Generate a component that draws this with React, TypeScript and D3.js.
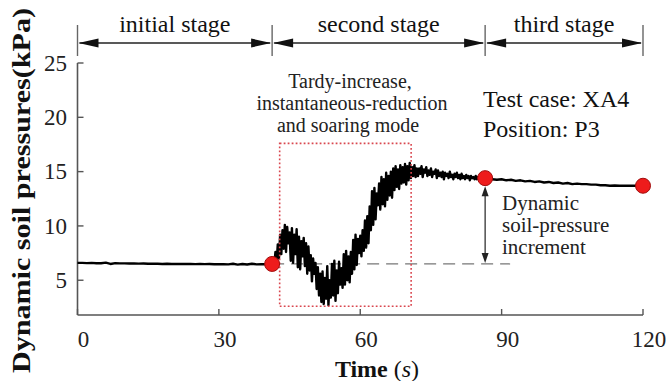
import React from 'react';
import * as d3 from 'd3';

// initial stage, 1 s step from t = 0
const initialStage = [
  6.6, 6.6, 6.58, 6.6, 6.57, 6.56, 6.62, 6.5, 6.58, 6.55, 6.55, 6.54, 6.55, 6.53, 6.54, 6.52,
  6.53, 6.52, 6.5, 6.52, 6.5, 6.51, 6.5, 6.49, 6.5, 6.48, 6.5, 6.48, 6.49, 6.47, 6.48, 6.47,
  6.46, 6.52, 6.44, 6.5, 6.45, 6.52, 6.46, 6.48, 6.47, 6.5,
];
// second stage, 0.25 s step from t = 41.25
const secondStage = [
  6.5, 6.9, 6.3, 7.6, 6.6, 8.3, 7.0, 9.2, 7.4, 9.6, 7.9, 10.1, 7.6, 9.9, 8.4, 9.4,
  6.8, 9.8, 6.6, 9.2, 7.4, 9.7, 6.2, 9.0, 6.0, 8.6, 7.2, 8.9, 6.3, 8.4, 5.6, 8.1,
  5.9, 7.3, 4.9, 7.0, 5.6, 6.6, 4.2, 6.2, 3.6, 5.6, 3.0, 5.8, 2.8, 5.2, 3.3, 6.3,
  2.7, 5.0, 3.4, 6.5, 3.6, 6.8, 3.1, 5.9, 3.8, 6.7, 4.6, 6.1, 4.3, 7.4, 4.6, 7.7,
  5.0, 7.2, 4.8, 7.6, 5.6, 8.7, 6.0, 9.2, 6.4, 8.8, 7.5, 9.1, 7.2, 9.6, 7.7, 10.5,
  8.0, 10.9, 8.4, 11.8, 9.6, 13.2, 10.1, 13.5, 10.6, 13.0, 11.9, 13.9, 11.5, 14.5, 12.0, 14.3,
  11.8, 14.9, 12.4, 14.6, 12.8, 15.0, 12.6, 15.3, 13.3, 15.5, 13.6, 15.2, 13.4, 15.6, 13.9, 15.4,
  14.0, 15.7, 13.8, 15.5, 14.2, 15.8, 14.4, 15.4, 14.6, 15.6, 14.5, 15.3,
];
// late second stage, 0.25 s step from t = 72.25
const plateau = [
  14.6, 15.3, 14.8, 15.5, 14.5, 15.2, 14.9, 15.4, 14.6, 15.1,
  14.7, 15.3, 14.5, 15.0, 14.8, 15.2, 14.4, 15.1, 14.6, 14.9,
  14.5, 15.0, 14.3, 14.9, 14.6, 14.8, 14.4, 15.0, 14.5, 14.7,
  14.3, 14.8, 14.5, 14.9, 14.4, 14.7, 14.3, 14.8, 14.4, 14.6,
  14.3, 14.7, 14.4, 14.6, 14.2, 14.6, 14.4, 14.5, 14.3, 14.6,
  14.3, 14.5, 14.4, 14.5, 14.3, 14.45, 14.4, 14.4,
];
// third stage, 1 s step from t = 87
const thirdStage = [
  14.35, 14.3, 14.25, 14.3, 14.2, 14.25, 14.15, 14.2, 14.1, 14.15, 14.05, 14.1, 14.0, 14.05,
  13.95, 14.0, 13.9, 13.95, 13.85, 13.9, 13.85, 13.85, 13.8, 13.8, 13.75, 13.75, 13.7, 13.72,
  13.7, 13.7, 13.7, 13.7, 13.7, 13.7,
];
const segments = [
  { start: 0, step: 1, values: initialStage },
  { start: 41.25, step: 0.25, values: secondStage },
  { start: 72.25, step: 0.25, values: plateau },
  { start: 87, step: 1, values: thirdStage },
];

const stageBounds = [0, 41.3, 86.5, 120];
const stageLabels = ['initial stage', 'second stage', 'third stage'];
const keyPoints = [
  [41.3, 6.5],
  [86.5, 14.4],
  [120, 13.7],
];
const xTicks = [0, 30, 60, 90, 120];
const yTicks = [5, 10, 15, 20, 25];
const boxT = [42.9, 70.8];
const boxV = [2.6, 17.6];
const baseLevel = 6.5;
const dashEnd = 91.8;

const serif = '"Liberation Serif", "Times New Roman", serif';

export default function App() {
  const x = d3.scaleLinear().domain([0, 120]).range([77.5, 643]);
  const y = d3.scaleLinear().domain([1.8, 25]).range([315, 63]);

  const points: [number, number][] = [];
  segments.forEach((s) => s.values.forEach((v, i) => points.push([s.start + i * s.step, v])));
  const line = d3
    .line<[number, number]>()
    .x((d) => x(d[0]))
    .y((d) => y(d[1]));

  const arrowY = 43;
  const head = (tipX: number, dir: number, yy: number) =>
    `M${tipX},${yy} L${tipX - dir * 20},${yy - 4.5} L${tipX - dir * 20},${yy + 4.5} Z`;

  const ax = x(86.5);
  const aTop = y(14.4) + 8;
  const aBot = y(baseLevel) - 1;

  return (
    <svg
      width={668}
      height={381}
      style={{ position: 'absolute', left: 0, top: 0, background: '#fff', fontFamily: serif }}
    >
      {/* stage arrows */}
      {stageBounds.map((t, i) => (
        <line key={'b' + i} x1={x(t)} x2={x(t)} y1={25} y2={56} stroke="#666" strokeWidth={1.4} />
      ))}
      {stageLabels.map((lab, i) => {
        const a = x(stageBounds[i]);
        const b = x(stageBounds[i + 1]);
        return (
          <g key={lab}>
            <line x1={a + 2} x2={b - 2} y1={arrowY} y2={arrowY} stroke="#222" strokeWidth={1.5} />
            <path d={head(a + 1, -1, arrowY)} fill="#111" />
            <path d={head(b - 1, 1, arrowY)} fill="#111" />
            <text x={(a + b) / 2} y={31.5} textAnchor="middle" fontSize={24} fill="#111">
              {lab}
            </text>
          </g>
        );
      })}

      {/* axes */}
      <line x1={x(0)} x2={x(0)} y1={y(25)} y2={y(1.8)} stroke="#555" strokeWidth={1.6} />
      <line x1={x(0)} x2={x(120)} y1={y(1.8)} y2={y(1.8)} stroke="#555" strokeWidth={1.6} />
      {yTicks.map((t) => (
        <g key={'y' + t}>
          <line x1={x(0)} x2={x(0) + 6} y1={y(t)} y2={y(t)} stroke="#555" strokeWidth={1.4} />
          <text x={67} y={y(t)} dy="0.34em" textAnchor="end" fontSize={23} fill="#222">
            {t}
          </text>
        </g>
      ))}
      {xTicks.map((t) => (
        <g key={'x' + t}>
          <line x1={x(t)} x2={x(t)} y1={y(1.8)} y2={y(1.8) - 6} stroke="#555" strokeWidth={1.4} />
          <text x={x(t) + 6} y={347} textAnchor="middle" fontSize={23} fill="#222">
            {t}
          </text>
        </g>
      ))}
      <text
        transform="translate(30,373) rotate(-90)"
        fontSize={25}
        fontWeight="bold"
        textLength={365}
        lengthAdjust="spacingAndGlyphs"
        fill="#111"
      >
        Dynamic soil pressures(kPa)
      </text>
      <text x={377} y={377} textAnchor="middle" fontSize={24} fill="#111">
        <tspan fontWeight="bold">Time</tspan>
        <tspan> (</tspan>
        <tspan fontStyle="italic">s</tspan>
        <tspan>)</tspan>
      </text>

      {/* dashed base level */}
      <line
        x1={x(stageBounds[1])}
        x2={x(dashEnd)}
        y1={y(baseLevel)}
        y2={y(baseLevel)}
        stroke="#777"
        strokeWidth={1.2}
        strokeDasharray="12 7"
      />

      {/* data */}
      <path d={line(points) || ''} fill="none" stroke="#000" strokeWidth={2.4} strokeLinejoin="round" />

      {/* dotted box */}
      <rect
        x={x(boxT[0])}
        y={y(boxV[1])}
        width={x(boxT[1]) - x(boxT[0])}
        height={y(boxV[0]) - y(boxV[1])}
        fill="none"
        stroke="#d9474f"
        strokeWidth={1.6}
        strokeDasharray="1.8 2.2"
      />

      {/* increment arrow */}
      <line x1={ax} x2={ax} y1={aTop + 4} y2={aBot - 4} stroke="#333" strokeWidth={1.3} />
      <path d={`M${ax},${aTop} L${ax - 3.5},${aTop + 10} L${ax + 3.5},${aTop + 10} Z`} fill="#222" />
      <path d={`M${ax},${aBot} L${ax - 3.5},${aBot - 10} L${ax + 3.5},${aBot - 10} Z`} fill="#222" />

      {keyPoints.map((p, i) => (
        <circle key={'k' + i} cx={x(p[0])} cy={y(p[1])} r={7.5} fill="#ee1c1c" stroke="#a30d0d" strokeWidth={1} />
      ))}

      {/* annotations */}
      <text fontSize={20} textAnchor="middle" fill="#222">
        <tspan x={350} y={88}>Tardy-increase,</tspan>
        <tspan x={352} y={110}>instantaneous-reduction</tspan>
        <tspan x={348} y={132}>and soaring mode</tspan>
      </text>
      <text fontSize={24} fill="#111">
        <tspan x={483} y={107}>Test case: XA4</tspan>
        <tspan x={483} y={137}>Position: P3</tspan>
      </text>
      <text fontSize={21} fill="#222">
        <tspan x={502} y={210}>Dynamic</tspan>
        <tspan x={502} y={232}>soil-pressure</tspan>
        <tspan x={502} y={254}>increment</tspan>
      </text>
    </svg>
  );
}
